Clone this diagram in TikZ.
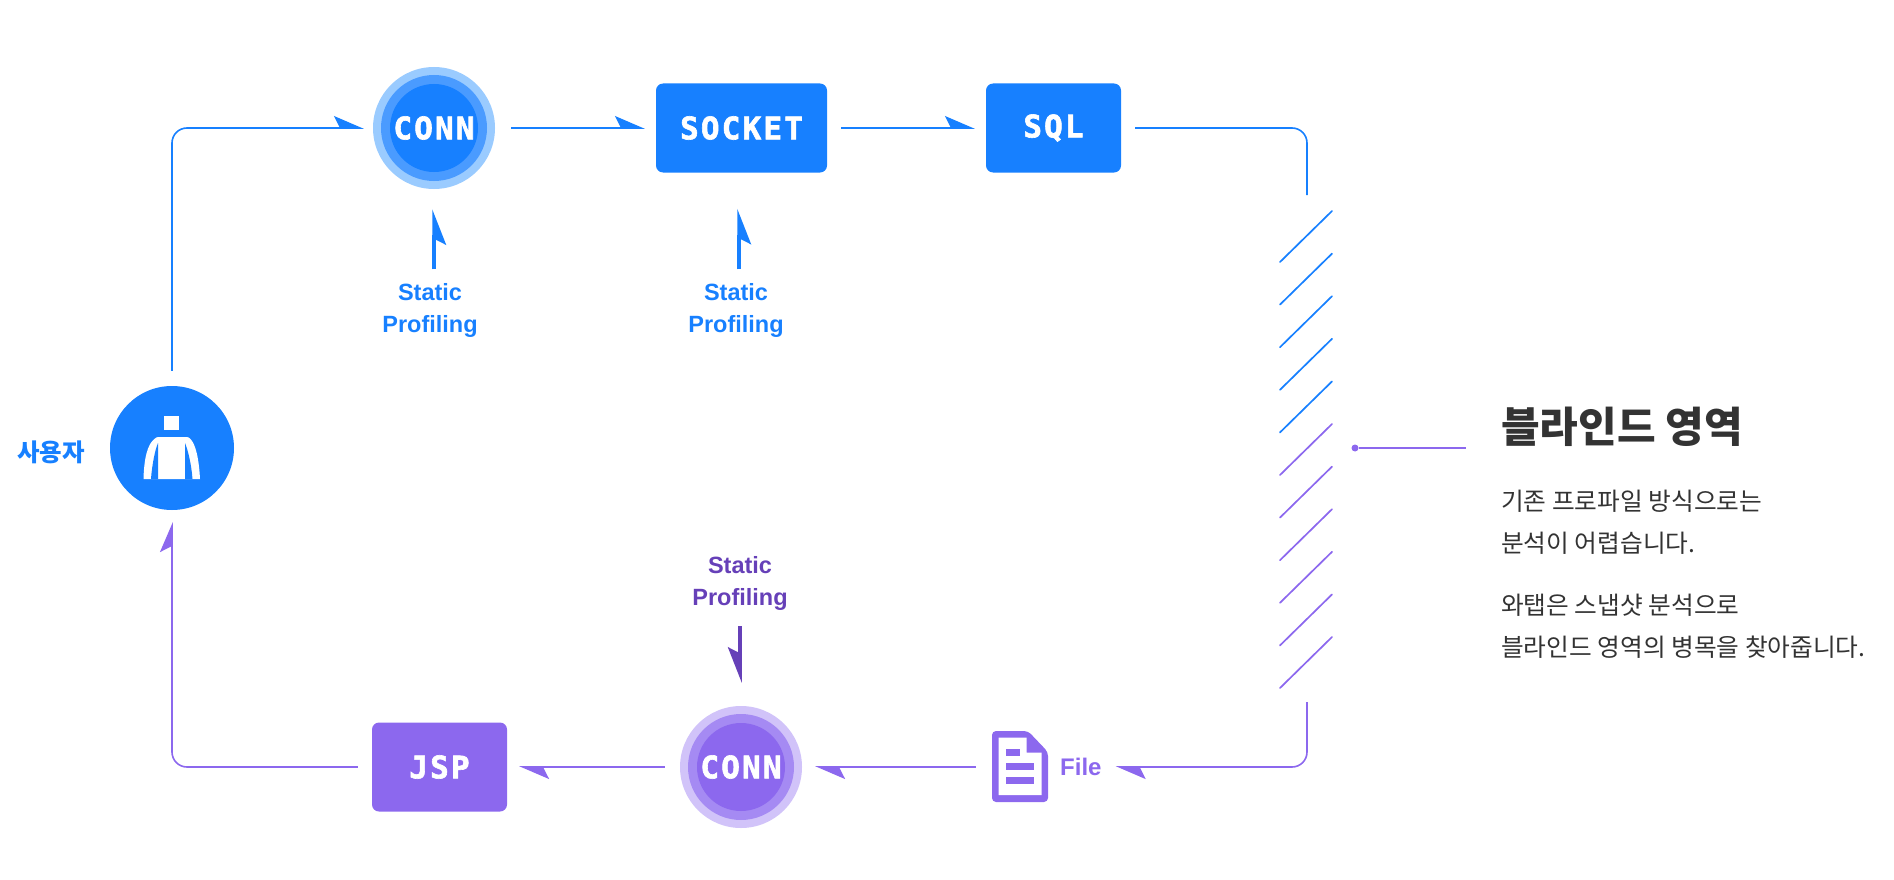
\documentclass[tikz,border=0pt]{standalone}
\usepackage{fontspec}
\setmainfont{Liberation Sans}
\newfontfamily\krfont{Noto Sans CJK KR}
\newfontfamily\blockfont[LetterSpace=7, BoldFeatures={FakeBold=2}]{DejaVu Sans Mono}
\usetikzlibrary{arrows.meta, positioning}
\definecolor{wtblue}{HTML}{1780FF}
\definecolor{wtbluemid}{HTML}{4A9BFF}
\definecolor{wtbluepale}{HTML}{9ACBFF}
\definecolor{wtpurple}{HTML}{8C68EE}
\definecolor{wtpurplemid}{HTML}{A58AF3}
\definecolor{wtpurplepale}{HTML}{D1C3F9}
\definecolor{wtdeep}{HTML}{6640B8}
\definecolor{wtink}{HTML}{333333}

\begin{document}
\begin{tikzpicture}[x=1pt, y=-1pt,
     halo/.style={circle, inner sep=0pt, minimum size=122pt},
     halomid/.style={circle, inner sep=0pt, minimum size=106pt},
     core/.style={circle, inner sep=0pt, minimum size=88pt, text=white, font=\blockfont\bfseries\fontsize{31}{31}\selectfont},
     box/.style={rounded corners=7pt, inner sep=0pt, minimum height=89pt, text=white, font=\blockfont\bfseries\fontsize{31}{31}\selectfont},
     prof/.style={align=center, inner sep=0pt, font=\bfseries\fontsize{23.5}{32}\selectfont},
     body/.style={anchor=west, align=left, inner sep=0pt, text=wtink, font=\krfont\fontsize{24.7}{41.6}\selectfont},
     a/.style={-{Stealth[harpoon, length=28pt, width=24pt, inset=6pt]}, line width=1.6pt, rounded corners=15pt},
     as/.style={-{Stealth[harpoon, swap, length=31pt, width=24pt, inset=6pt]}, line width=3.5pt},
     hatch/.style={line width=1.7pt, line cap=round}]
    \useasboundingbox (0,0) rectangle (1894,880);

    \node[halo, fill=wtbluepale] (conn1) at (434,128) {};
    \node[halomid, fill=wtbluemid] (conn1mid) at (conn1) {};
    \node[core, fill=wtblue] (conn1core) at (conn1) {CONN};
    \node[box, fill=wtblue, minimum width=171pt] (socket) at (741.5,128) {SOCKET};
    \node[box, fill=wtblue, minimum width=135pt] (sql) at (1053.5,128) {SQL};
    \node[box, fill=wtpurple, minimum width=135pt] (jsp) at (439.5,767) {JSP};
    \node[halo, fill=wtpurplepale] (conn2) at (741,767) {};
    \node[halomid, fill=wtpurplemid] (conn2mid) at (conn2) {};
    \node[core, fill=wtpurple] (conn2core) at (conn2) {CONN};

    \node[circle, fill=wtblue, inner sep=0pt, minimum size=124pt] (user) at (172,448) {};
    \node[inner sep=0pt, text=wtblue, font=\krfont\bfseries\fontsize{24.5}{24.5}\selectfont] (userlabel) at (51,452) {사용자};
    \fill[white] (164,416) rectangle (179,430);
    \fill[white] (143.5,479) .. controls (144,460) and (147,444) .. (155,438.5) .. controls (156,437.5) and (157,437) .. (159,437) -- (186,437) .. controls (188,437) and (189,437.5) .. (190,438.5) .. controls (196,444) and (199,460) .. (200,479) -- cycle;
    \fill[wtblue] (158,443) .. controls (155,450) and (152,465) .. (151,479) -- (158,479) -- cycle;
    \fill[wtblue] (185,443) .. controls (188,450) and (191.5,465) .. (192.5,479) -- (185,479) -- cycle;

    \node[inner sep=0pt, minimum width=56pt, minimum height=71pt] (fileicon) at (1020,767) {};
    \fill[wtpurple, rounded corners=4pt] (992,731) -- (1028,731) -- (1048,752) -- (1048,802) -- (992,802) -- cycle;
    \fill[white] (998.5,737.5) -- (1026.5,737.5) -- (1026.5,752.5) -- (1041.5,752.5) -- (1041.5,795) -- (998.5,795) -- cycle;
    \fill[wtpurple] (1005.7,749) rectangle (1020,755.7);
    \fill[wtpurple] (1005.7,763.3) rectangle (1034,770);
    \fill[wtpurple] (1005.7,777.3) rectangle (1034,784.3);
    \node[inner sep=0pt, anchor=west, text=wtpurple, font=\bfseries\fontsize{24}{24}\selectfont] (filelabel) at (1060,767) {File};

    \node[prof, text=wtblue] (static1) at (430,310.5) {Static\\Profiling};
    \node[prof, text=wtblue] (static2) at (736,310.5) {Static\\Profiling};
    \node[prof, text=wtdeep] (static3) at (740,583) {Static\\Profiling};

    \coordinate (blindtop) at (1307,195);
    \coordinate (blindbot) at (1307,702);
    \coordinate (blindend) at (1466,448);
    \node[circle, fill=wtpurple, inner sep=0pt, minimum size=7pt] (blinddot) at (1355,448) {};

    \draw[a, wtblue, shorten <=15pt, shorten >=9pt] (user) |- (conn1);
    \draw[a, wtblue, shorten <=16pt, shorten >=11pt] (conn1) -- (socket);
    \draw[a, wtblue, shorten <=14pt, shorten >=11pt] (socket) -- (sql);
    \draw[a, wtblue, shorten <=14pt, -] (sql) -| (blindtop);
    \draw[a, wtpurple, shorten >=14pt] (blindbot) |- (filelabel);
    \draw[a, wtpurple, shorten <=16pt, shorten >=13pt] (fileicon) -- (conn2);
    \draw[a, wtpurple, shorten <=15pt, shorten >=12pt] (conn2) -- (jsp);
    \draw[a, wtpurple, shorten <=14pt, shorten >=12pt] (jsp) -| (user);
    \draw[as, wtblue, shorten <=14pt, shorten >=20pt] ([xshift=4pt]static1.north) -- (conn1.south);
    \draw[as, wtblue, shorten <=14pt, shorten >=36pt] ([xshift=3pt]static2.north) -- ([xshift=-2.5pt]socket.south);
    \draw[as, wtdeep, shorten <=16pt, shorten >=23pt] (static3.south) -- ([xshift=-1pt]conn2.north);
    \draw[line width=1.6pt, wtpurple] (blinddot) -- (blindend);

    \foreach \i in {0,...,4}
      \draw[hatch, wtblue] (1280,262+42.6*\i) -- (1332,211+42.6*\i);
    \foreach \i in {5,...,10}
      \draw[hatch, wtpurple] (1280,262+42.6*\i) -- (1332,211+42.6*\i);

    \node[body, font=\krfont\bfseries\fontsize{42}{42}\selectfont] (blindtitle) at (1501,427) {블라인드 영역};
    \node[body] (blinddesc1) at (1501,522) {기존 프로파일 방식으로는\\분석이 어렵습니다.};
    \node[body] (blinddesc2) at (1501,626) {와탭은 스냅샷 분석으로\\블라인드 영역의 병목을 찾아줍니다.};
  \end{tikzpicture}
\end{document}
